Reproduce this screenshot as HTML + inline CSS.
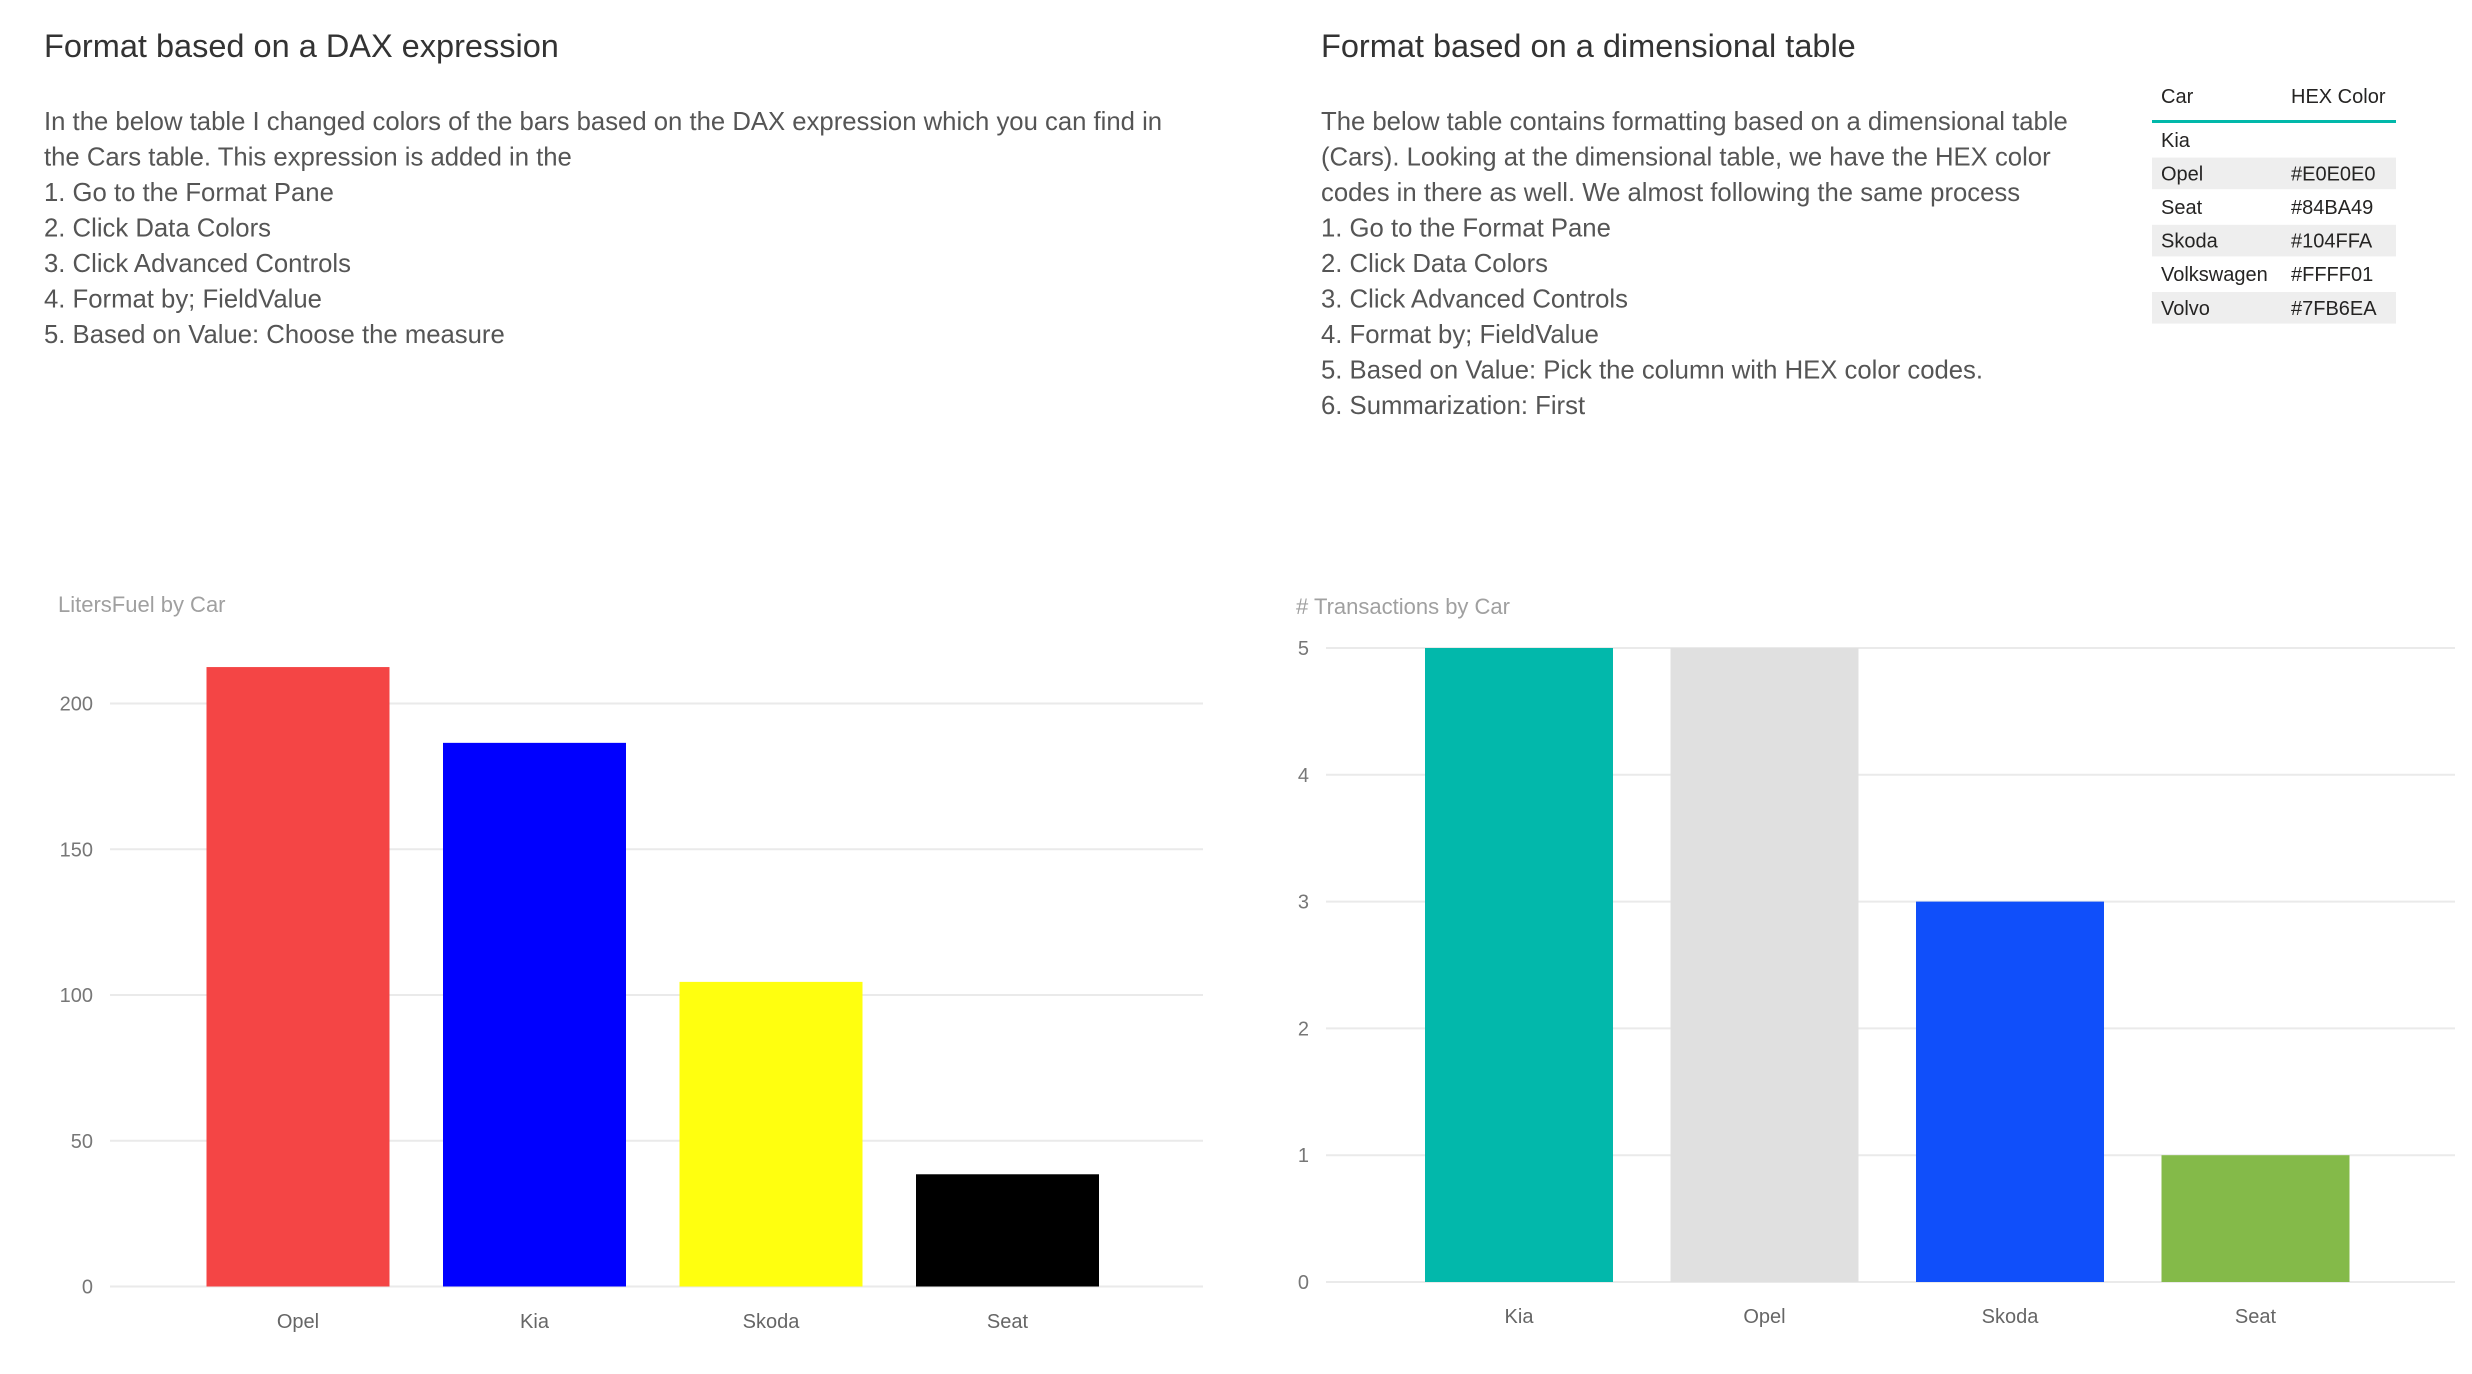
<!DOCTYPE html>
<html><head><meta charset="utf-8"><style>
html,body{margin:0;padding:0;background:#fff;width:2472px;height:1374px;overflow:hidden}
svg{display:block;font-family:"Liberation Sans",sans-serif}
</style></head><body>
<svg id="page" width="2472" height="1374" viewBox="0 0 2472 1374" xmlns="http://www.w3.org/2000/svg">
<g fill="#555" font-size="25.7">
<text x="44" y="57" font-size="32.5" fill="#333">Format based on a DAX expression</text>
<text x="44" y="130">In the below table I changed colors of the bars based on the DAX expression which you can find in</text>
<text x="44" y="165.5">the Cars table. This expression is added in the</text>
<text x="44" y="201">1. Go to the Format Pane</text>
<text x="44" y="236.5">2. Click Data Colors</text>
<text x="44" y="272">3. Click Advanced Controls</text>
<text x="44" y="307.5">4. Format by; FieldValue</text>
<text x="44" y="343">5. Based on Value: Choose the measure</text>
</g>
<g fill="#555" font-size="25.7">
<text x="1321" y="57" font-size="32.5" fill="#333">Format based on a dimensional table</text>
<text x="1321" y="130">The below table contains formatting based on a dimensional table</text>
<text x="1321" y="165.5">(Cars). Looking at the dimensional table, we have the HEX color</text>
<text x="1321" y="201">codes in there as well. We almost following the same process</text>
<text x="1321" y="236.5">1. Go to the Format Pane</text>
<text x="1321" y="272">2. Click Data Colors</text>
<text x="1321" y="307.5">3. Click Advanced Controls</text>
<text x="1321" y="343">4. Format by; FieldValue</text>
<text x="1321" y="378.5">5. Based on Value: Pick the column with HEX color codes.</text>
<text x="1321" y="414">6. Summarization: First</text>
</g>
<g id="table" font-size="20" fill="#252423"></g>
<g id="chart1"></g>
<g id="chart2"></g>
</svg>
<script>
const NS="http://www.w3.org/2000/svg";
const tableCars=["Kia","Opel","Seat","Skoda","Volkswagen","Volvo"];
const tableHex=["","#E0E0E0","#84BA49","#104FFA","#FFFF01","#7FB6EA"];
const c1Cats=["Opel","Kia","Skoda","Seat"];
const c1Vals=[212.5,186.5,104.5,38.5];
const c1Colors=["#F44545","#0000FF","#FFFF0F","#000000"];
const c1Ticks=[0,50,100,150,200];
const c2Cats=["Kia","Opel","Skoda","Seat"];
const c2Vals=[5,5,3,1];
const c2Colors=["#02B8AB","#E0E0E0","#104FFA","#84BA49"];
const c2Ticks=[0,1,2,3,4,5];
function mk(tag,attrs,parent,txt){const e=document.createElementNS(NS,tag);for(const k in attrs)e.setAttribute(k,attrs[k]);if(txt!==undefined)e.textContent=txt;parent.appendChild(e);return e;}
(function(){
const g=document.getElementById('table');
let t=mk('text',{x:2161,y:103},g,'Car');


t=mk('text',{x:2291,y:103},g,'HEX Color');


let l=mk('rect',{x:2152,y:120,width:244,height:3,fill:'#01B8AA'},g);


const rowH=33.6,y0=123;
tableCars.forEach((c,i)=>{
 const y=y0+i*rowH;
 if(i%2===1){const r=mk('rect',{x:2152,y:y+1,width:244,height:rowH-2,fill:'#EEEEEE'},g);
 
 }
 const a=mk('text',{x:2161,y:y+rowH/2+7},g,c);
 
 
 const b=mk('text',{x:2291,y:y+rowH/2+7},g,tableHex[i]);
 
 
});
})();
function chart(id,title,cats,vals,colors,ticks,o){
 const g=document.getElementById(id);
 const maxT=ticks[ticks.length-1];
 const y=v=>o.y0-(v/maxT)*(o.y0-o.yTop);
 const tt=mk('text',{x:o.titleX,y:o.titleY,'font-size':22,fill:'#A0A0A0'},g,title);
 
 
 ticks.forEach(tv=>{
  const ln=mk('line',{x1:o.gx0,x2:o.gx1,y1:y(tv),y2:y(tv),stroke:'#EAEAEA','stroke-width':2},g);
  
  
  const lb=mk('text',{x:o.tickX,y:y(tv)+7,'font-size':20,fill:'#777','text-anchor':'end'},g,String(tv));
  
  
 });
 cats.forEach((c,i)=>{
  const x=o.bx0+i*o.step;
  const r=mk('rect',{x:x,y:y(vals[i]),width:o.bw,height:o.y0-y(vals[i]),fill:colors[i]},g);
  
  
  const lb=mk('text',{x:x+o.bw/2,y:o.labelY,'font-size':20,fill:'#666','text-anchor':'middle'},g,c);
  
  
 });
}
chart('chart1','LitersFuel by Car',c1Cats,c1Vals,c1Colors,c1Ticks,
 {y0:1286.5,yTop:703.5,gx0:110,gx1:1203,tickX:93,bx0:206.5,step:236.5,bw:183,labelY:1328,titleX:58,titleY:612});
chart('chart2','# Transactions by Car',c2Cats,c2Vals,c2Colors,c2Ticks,
 {y0:1282,yTop:648,gx0:1326,gx1:2455,tickX:1309,bx0:1425,step:245.5,bw:188,labelY:1323,titleX:1296,titleY:614});
</script>
</body></html>
